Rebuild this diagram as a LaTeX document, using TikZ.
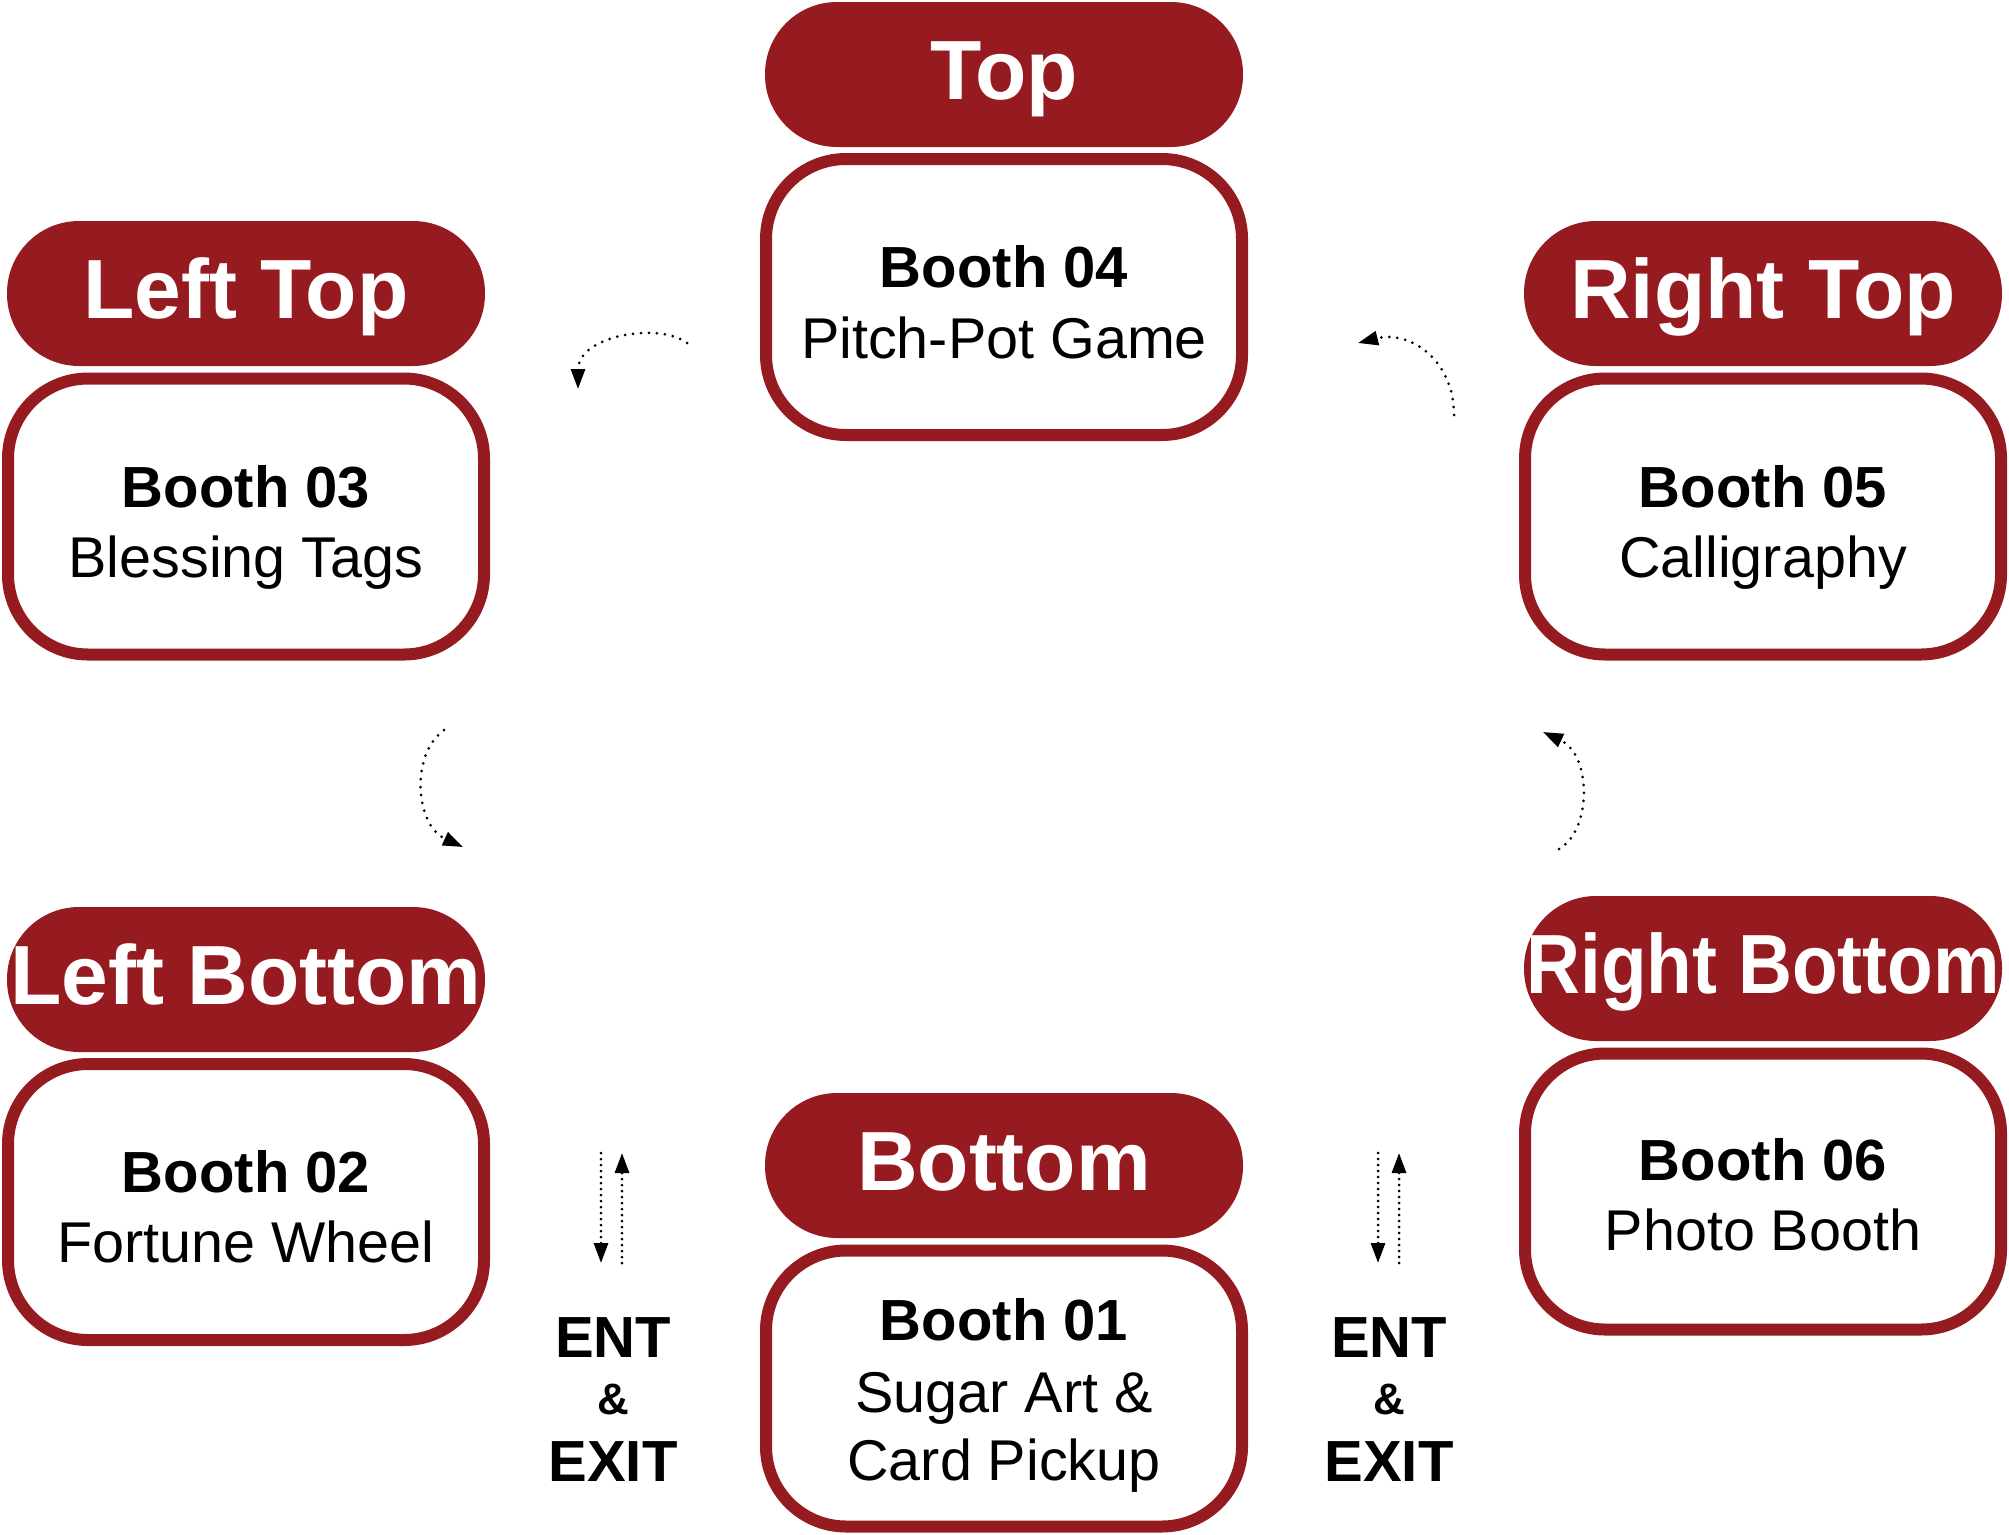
\documentclass[tikz,border=0pt]{standalone}
\usepackage{fontspec}
\setmainfont{Liberation Sans}
\usepackage{graphicx}
\usetikzlibrary{arrows.meta}
\definecolor{boothred}{RGB}{150,27,32}
\begin{document}
\begin{tikzpicture}[x=1pt,y=-1pt,
  pill/.style={fill=boothred, rounded corners=72pt, minimum width=478pt, minimum height=145pt,
    inner sep=0pt, text=white, font=\fontsize{84}{84}\selectfont\bfseries, text height=60pt, text depth=11pt},
  boothbox/.style={draw=boothred, line width=12pt, rounded corners=80pt, minimum width=476pt,
    minimum height=276pt, fill=white},
  boothname/.style={anchor=base, font=\fontsize{58}{58}\selectfont\bfseries, inner sep=0pt},
  boothdesc/.style={anchor=base, font=\fontsize{57.5}{57.5}\selectfont, inner sep=0pt},
  entbig/.style={anchor=base, font=\fontsize{58}{58}\selectfont\bfseries, inner sep=0pt},
  entamp/.style={anchor=base, font=\fontsize{44}{44}\selectfont\bfseries, inner sep=0pt},
  flow/.style={line width=3pt, line cap=round, dash pattern=on 0pt off 8pt,
    -{Triangle[length=20pt,width=14pt]}},
  flowv/.style={line width=3pt, line cap=round, dash pattern=on 0pt off 6pt,
    -{Triangle[length=20pt,width=14pt]}},
]
\useasboundingbox (0,0) rectangle (2009,1534);

% pills
\node[pill] (pLT) at (246,293.5) {Left Top};
\node[pill] (pT)  at (1004,74.5) {Top};
\node[pill] (pRT) at (1763,293.5) {Right Top};
\node[pill] (pLB) at (246,979.5) {Left Bottom};
\node[pill] (pRB) at (1763,968.5) {\scalebox{0.89}[1]{Right Bottom}};
\node[pill] (pB)  at (1004,1165.5) {Bottom};

% booth boxes
\node[boothbox] (bLT) at (246,516.5) {};
\node[boothbox] (bT)  at (1004,297) {};
\node[boothbox] (bRT) at (1763,516.5) {};
\node[boothbox] (bLB) at (246,1202) {};
\node[boothbox] (bRB) at (1763,1191.5) {};
\node[boothbox] (bB)  at (1004,1388.5) {};

% booth texts
\node[boothname] (n03) at (246,507) {Booth 03};
\node[boothdesc] (d03) at (246,577) {Blessing Tags};
\node[boothname] (n04) at (1004,287) {Booth 04};
\node[boothdesc] (d04) at (1004,358) {Pitch-Pot Game};
\node[boothname] (n05) at (1763,507) {Booth 05};
\node[boothdesc] (d05) at (1763,577) {Calligraphy};
\node[boothname] (n02) at (246,1192) {Booth 02};
\node[boothdesc] (d02) at (246,1262) {Fortune Wheel};
\node[boothname] (n06) at (1763,1180) {Booth 06};
\node[boothdesc] (d06) at (1763,1250) {Photo Booth};
\node[boothname] (n01) at (1004,1340) {Booth 01};
\node[boothdesc] (d01a) at (1004,1412) {Sugar Art \&};
\node[boothdesc] (d01b) at (1004,1480) {Card Pickup};

% entrance / exit labels
\node[entbig] (entL)  at (613,1357) {ENT};
\node[entamp] (ampL)  at (613,1414) {\&};
\node[entbig] (exitL) at (613,1481) {EXIT};
\node[entbig] (entR)  at (1389,1357) {ENT};
\node[entamp] (ampR)  at (1389,1414) {\&};
\node[entbig] (exitR) at (1389,1481) {EXIT};

% curved flow arrows
\coordinate (a1s) at (687,343);  \coordinate (a1e) at (578,389);
\coordinate (a2s) at (1454,415); \coordinate (a2e) at (1358,343);
\coordinate (a3s) at (444,730);  \coordinate (a3e) at (463,847);
\coordinate (a4s) at (1559,849); \coordinate (a4e) at (1543,732);
\draw[flow] (a1s) .. controls (660,322) and (578,335) .. (a1e);
\draw[flow] (a2s) .. controls (1454,360) and (1410,330) .. (a2e);
\draw[flow] (a3s) .. controls (410,755) and (415,825) .. (a3e);
\draw[flow] (a4s) .. controls (1592,830) and (1592,755) .. (a4e);

% entrance / exit arrows
\coordinate (lds) at (601,1153); \coordinate (lde) at (601,1263);
\coordinate (lus) at (622,1263); \coordinate (lue) at (622,1153);
\coordinate (rds) at (1378,1153); \coordinate (rde) at (1378,1263);
\coordinate (rus) at (1399,1263); \coordinate (rue) at (1399,1153);
\draw[flowv] (lds) -- (lde);
\draw[flowv] (lus) -- (lue);
\draw[flowv] (rds) -- (rde);
\draw[flowv] (rus) -- (rue);
\end{tikzpicture}
\end{document}
